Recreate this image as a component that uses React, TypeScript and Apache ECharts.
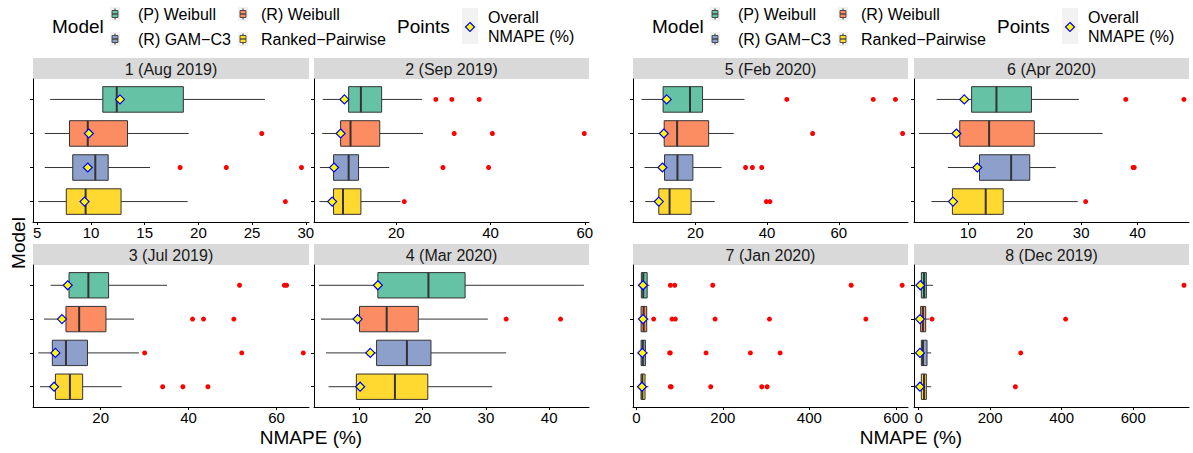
import React, { useEffect, useRef } from "react";
import * as echarts from "echarts";

const FONT = "'Liberation Sans', Arial, Helvetica, sans-serif";

const models = ["(P) Weibull", "(R) Weibull", "(R) GAM\u2212C3", "Ranked\u2212Pairwise"];
const modelColors = ["#66C2A5", "#FC8D62", "#8DA0CB", "#FFD92F"];

const panelTitles = [
  "1 (Aug 2019)", "2 (Sep 2019)", "3 (Jul 2019)", "4 (Mar 2020)",
  "5 (Feb 2020)", "6 (Apr 2020)", "7 (Jan 2020)", "8 (Dec 2019)",
];

// box stats per model: [lower whisker, Q1, median, Q3, upper whisker]
const p1Box = [[6.2, 11.1, 12.4, 18.6, 26.2], [5.7, 8.0, 9.7, 13.4, 19.1], [5.7, 8.3, 10.4, 11.6, 15.5], [5.1, 7.7, 9.5, 12.8, 19.0]];
const p1Mean = [12.7, 9.8, 9.7, 9.4];
const p1Out = [[], [25.9], [18.3, 22.6, 29.6], [28.1]];

const p2Box = [[4.4, 9.9, 12.5, 16.9, 25.5], [4.3, 8.2, 10.3, 16.5, 25.7], [3.8, 6.7, 9.9, 12.0, 18.5], [3.7, 6.7, 8.7, 12.5, 20.9]];
const p2Mean = [9.0, 8.2, 6.8, 6.4];
const p2Out = [[28.4, 31.8, 37.6], [32.3, 40.4, 59.9], [29.9, 39.6], [21.7]];

const p3Box = [[8.6, 12.8, 17.2, 21.8, 35.1], [7.1, 12.1, 15.1, 21.2, 27.6], [5.8, 9.0, 12.1, 17.0, 28.7], [6.2, 9.7, 13.0, 15.9, 24.8]];
const p3Mean = [12.5, 11.2, 9.7, 9.4];
const p3Out = [[51.6, 61.8, 62.3], [40.9, 43.4, 50.3], [30.0, 52.1, 66.1], [34.1, 38.7, 44.4]];

const p4Box = [[3.6, 12.9, 20.9, 26.7, 45.5], [3.9, 10.0, 14.3, 19.3, 30.3], [4.7, 12.7, 17.5, 21.3, 33.2], [5.1, 9.5, 15.6, 20.8, 31.0]];
const p4Mean = [12.9, 9.7, 11.7, 10.1];
const p4Out = [[], [33.2, 41.8], [], []];

const p5Box = [[5.0, 11.0, 18.5, 22.0, 33.7], [4.0, 11.3, 14.9, 23.7, 30.7], [5.8, 11.4, 15.0, 19.3, 27.3], [6.0, 9.8, 12.8, 18.8, 25.4]];
const p5Mean = [12.0, 11.2, 10.8, 9.8];
const p5Out = [[45.5, 69.6, 75.8], [52.7, 77.8], [34.0, 35.9, 38.5], [39.8, 40.8]];

const p6Box = [[4.4, 10.6, 15.0, 21.2, 29.6], [1.3, 8.5, 13.7, 21.7, 33.8], [6.4, 12.0, 17.6, 20.9, 25.5], [3.5, 7.2, 13.1, 16.2, 29.4]];
const p6Mean = [9.3, 7.9, 11.6, 7.3];
const p6Out = [[37.9, 48.2], [], [39.2, 39.4], [30.8]];

const p7Box = [[5, 11.6, 16, 25, 30], [5, 11, 17, 24, 28], [5, 11, 15, 21, 26], [5, 10.8, 13.9, 20.1, 28]];
const p7Mean = [15.4, 15.4, 13.9, 13.1];
const p7Out = [[78.7, 88.7, 176.6, 496.6, 614.6], [40.1, 82.5, 90.2, 182.0, 307.7, 530.6], [77.1, 78.5, 161.2, 263.7, 332.4], [78.7, 80.5, 172.0, 290.0, 302.3]];

const p8Box = [[0, 7.5, 15, 21.5, 40], [1, 5.6, 12, 19.7, 30], [1, 7.5, 12, 23.4, 35], [1, 7.5, 15, 21.5, 35]];
const p8Mean = [4.7, 3.7, 3.7, 3.7];
const p8Out = [[742], [37.4, 411], [285.5], [270.5]];

const panelBoxes = [p1Box, p2Box, p3Box, p4Box, p5Box, p6Box, p7Box, p8Box];
const panelMeans = [p1Mean, p2Mean, p3Mean, p4Mean, p5Mean, p6Mean, p7Mean, p8Mean];
const panelOuts = [p1Out, p2Out, p3Out, p4Out, p5Out, p6Out, p7Out, p8Out];

// x-axis ranges and tick labels
const axisMin = [4.6, 2.55, 4.6, 2.8, 2.6, 0.4, -7.7, -13];
const axisMax = [30.3, 60.9, 67.4, 46.3, 79.3, 49.1, 628, 756];
const axisTicks = [
  [5, 10, 15, 20, 25, 30], [20, 40, 60], [20, 40, 60], [10, 20, 30, 40],
  [20, 40, 60], [10, 20, 30, 40], [0, 200, 400, 600], [0, 200, 400, 600],
];

// layout
const colLeft = [33, 314, 633, 914];
const colWidth = [276, 275, 275, 275];
const rowTop = [79, 265];
const rowHeight = [143, 142];
const panelPos = [[0, 0], [1, 0], [0, 1], [1, 1], [2, 0], [3, 0], [2, 1], [3, 1]];
const STRIP_H = 21;

export default function App() {
  const ref = useRef<HTMLDivElement>(null);

  useEffect(() => {
    if (!ref.current) return;
    const chart = echarts.init(ref.current, undefined, { renderer: "svg" });

    const grids: any[] = [];
    const xAxes: any[] = [];
    const yAxes: any[] = [];
    const series: any[] = [];
    const graphics: any[] = [];

    panelPos.forEach(([c, r], p) => {
      const left = colLeft[c], top = rowTop[r], width = colWidth[c], height = rowHeight[r];
      grids.push({ left, top, width, height, containLabel: false, outerBoundsMode: "none" });
      xAxes.push({
        type: "value", gridIndex: p, min: axisMin[p], max: axisMax[p],
        splitLine: { show: false },
        axisLine: { show: true, onZero: false, lineStyle: { color: "#000", width: 1 } },
        axisTick: { show: true, length: 3, customValues: axisTicks[p], lineStyle: { color: "#000" } },
        axisLabel: { show: true, customValues: axisTicks[p], fontSize: 15, color: "#000", fontFamily: FONT, margin: 3 },
      });
      yAxes.push({
        type: "value", gridIndex: p, min: 0.4, max: 4.6,
        splitLine: { show: false },
        axisLine: { show: true, onZero: false, lineStyle: { color: "#000", width: 1 } },
        axisTick: { show: true, length: 3, customValues: [1, 2, 3, 4], lineStyle: { color: "#000" } },
        axisLabel: { show: false },
      });

      const boxData = panelBoxes[p].map((b, i) => [4 - i, ...b, i]);
      series.push({
        type: "custom", xAxisIndex: p, yAxisIndex: p, z: 2,
        data: boxData,
        encode: { x: [1, 2, 3, 4, 5], y: 0 },
        renderItem: (params: any, api: any) => {
          const cat = api.value(0);
          const pl = api.coord([api.value(1), cat]);
          const p1 = api.coord([api.value(2), cat]);
          const pm = api.coord([api.value(3), cat]);
          const p3 = api.coord([api.value(4), cat]);
          const ph = api.coord([api.value(5), cat]);
          const ci = api.value(6);
          const hh = api.size([0, 0.375])[1];
          const y = pl[1];
          return {
            type: "group",
            children: [
              { type: "line", shape: { x1: pl[0], y1: y, x2: p1[0], y2: y }, style: { stroke: "#333", lineWidth: 1 } },
              { type: "line", shape: { x1: p3[0], y1: y, x2: ph[0], y2: y }, style: { stroke: "#333", lineWidth: 1 } },
              { type: "rect", shape: { x: p1[0], y: y - hh, width: p3[0] - p1[0], height: 2 * hh }, style: { fill: modelColors[ci], stroke: "#333", lineWidth: 1 } },
              { type: "line", shape: { x1: pm[0], y1: y - hh, x2: pm[0], y2: y + hh }, style: { stroke: "#333", lineWidth: 2 } },
            ],
          };
        },
      });

      const outData: number[][] = [];
      panelOuts[p].forEach((arr, i) => arr.forEach((v) => outData.push([v, 4 - i])));
      series.push({
        type: "scatter", xAxisIndex: p, yAxisIndex: p, z: 3,
        symbol: "circle", symbolSize: 5,
        itemStyle: { color: "#FF0000", opacity: 1 },
        data: outData,
      });
      series.push({
        type: "scatter", xAxisIndex: p, yAxisIndex: p, z: 4,
        symbol: "diamond", symbolSize: [9, 9],
        itemStyle: { color: "#FFFF00", borderColor: "#0000FF", borderWidth: 1.2, opacity: 1 },
        data: panelMeans[p].map((m, i) => [m, 4 - i]),
      });

      graphics.push({
        type: "rect", shape: { x: left, y: top - STRIP_H, width, height: STRIP_H },
        style: { fill: "#D9D9D9" }, silent: true,
      });
      graphics.push({
        type: "text", x: left + width / 2, y: top - STRIP_H / 2 + 0.5,
        style: { text: panelTitles[p], fontSize: 16, fontFamily: FONT, fill: "#1A1A1A", align: "center", verticalAlign: "middle" },
        silent: true,
      });
    });

    // axis titles
    graphics.push({
      type: "text", x: 18, y: 243, rotation: Math.PI / 2,
      style: { text: "Model", fontSize: 19, fontFamily: FONT, fill: "#000", align: "center", verticalAlign: "middle" },
    });
    [311, 911].forEach((cx) => {
      graphics.push({
        type: "text", x: cx, y: 437,
        style: { text: "NMAPE (%)", fontSize: 19, fontFamily: FONT, fill: "#000", align: "center", verticalAlign: "middle" },
      });
    });

    // legends
    [0, 600].forEach((dx) => {
      graphics.push({
        type: "text", x: 52 + dx, y: 26,
        style: { text: "Model", fontSize: 19, fontFamily: FONT, fill: "#000", align: "left", verticalAlign: "middle" },
      });
      const keyX = [115, 243];
      const keyY = [14, 39];
      const textX = [138, 261];
      // order: col-major by row: (P) Weibull (c0,r0), (R) Weibull (c1,r0), GAM (c0,r1), Ranked (c1,r1)
      const place = [[0, 0], [1, 0], [0, 1], [1, 1]];
      models.forEach((m, i) => {
        const [c, r] = place[i];
        const cx = keyX[c] + dx, cy = keyY[r];
        graphics.push({ type: "rect", shape: { x: cx - 5, y: cy - 7, width: 10, height: 14 }, style: { fill: "#F2F2F2" } });
        graphics.push({ type: "line", shape: { x1: cx, y1: cy - 5.5, x2: cx, y2: cy + 5.5 }, style: { stroke: "#333", lineWidth: 1 } });
        graphics.push({ type: "rect", shape: { x: cx - 3, y: cy - 3.5, width: 6, height: 7 }, style: { fill: modelColors[i], stroke: "#333", lineWidth: 0.8 } });
        graphics.push({ type: "line", shape: { x1: cx - 3, y1: cy, x2: cx + 3, y2: cy }, style: { stroke: "#333", lineWidth: 1.2 } });
        graphics.push({
          type: "text", x: textX[c] + dx, y: cy + 0.5,
          style: { text: m, fontSize: 16, fontFamily: FONT, fill: "#000", align: "left", verticalAlign: "middle" },
        });
      });
      graphics.push({
        type: "text", x: 397 + dx, y: 26,
        style: { text: "Points", fontSize: 19, fontFamily: FONT, fill: "#000", align: "left", verticalAlign: "middle" },
      });
      graphics.push({ type: "rect", shape: { x: 462 + dx, y: 8, width: 16, height: 36 }, style: { fill: "#F2F2F2" } });
      graphics.push({
        type: "polygon",
        shape: { points: [[470 + dx, 22.5], [474.5 + dx, 27], [470 + dx, 31.5], [465.5 + dx, 27]] },
        style: { fill: "#FFFF00", stroke: "#0000FF", lineWidth: 1.2 },
      });
      graphics.push({
        type: "text", x: 488 + dx, y: 17,
        style: { text: "Overall", fontSize: 16, fontFamily: FONT, fill: "#000", align: "left", verticalAlign: "middle" },
      });
      graphics.push({
        type: "text", x: 488 + dx, y: 36,
        style: { text: "NMAPE (%)", fontSize: 16, fontFamily: FONT, fill: "#000", align: "left", verticalAlign: "middle" },
      });
    });

    chart.setOption({
      animation: false,
      backgroundColor: "#FFFFFF",
      textStyle: { fontFamily: FONT },
      grid: grids,
      xAxis: xAxes,
      yAxis: yAxes,
      series,
      graphic: { elements: graphics },
    });

    return () => chart.dispose();
  }, []);

  return (
    <div
      ref={ref}
      style={{ position: "absolute", left: 0, top: 0, width: 1193, height: 453, background: "#fff" }}
    />
  );
}
